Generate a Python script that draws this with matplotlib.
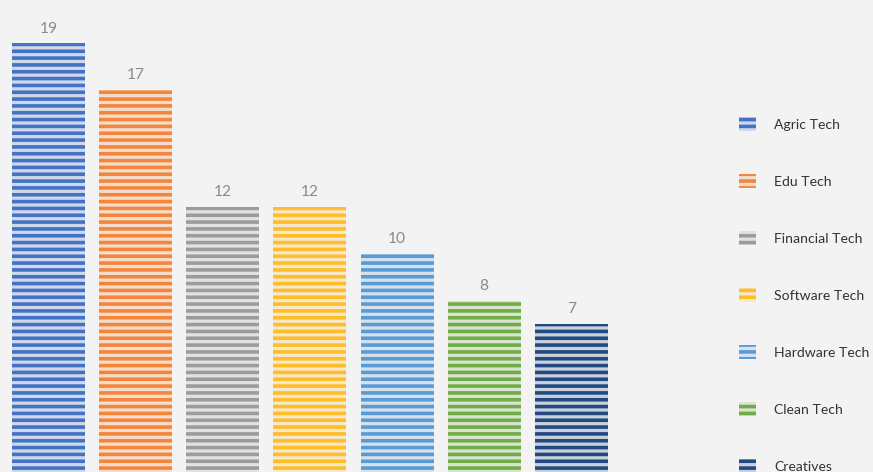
import matplotlib
matplotlib.use("Agg")
import matplotlib.pyplot as plt
from matplotlib.colors import to_rgb

# Startups per sector
categories = ["Agric Tech", "Edu Tech", "Financial Tech", "Software Tech",
              "Hardware Tech", "Clean Tech", "Creatives"]
values = [19, 17, 12, 12, 10, 8, 7]
stripe_colors = ["#4472C4", "#F5853A", "#9C9C9C", "#FFBD2A",
                 "#5B9BD5", "#70AD47", "#224A80"]

DPI = 82
BG = "#F3F3F3"
PX = 72.0 / DPI  # points per pixel

plt.rcParams["hatch.linewidth"] = 3.6 * PX
plt.rcParams["font.family"] = ["Lato", "DejaVu Sans"]


def tint(color, amount=0.2):
    c = to_rgb(color)
    b = to_rgb(BG)
    return tuple(ci * amount + bi * (1 - amount) for ci, bi in zip(c, b))


fig = plt.figure(figsize=(873.3 / DPI, 472.3 / DPI), dpi=DPI, facecolor=BG)
ax = fig.add_axes([0, 0, 1, 1])
ax.set_facecolor(BG)

for i, (cat, v, c) in enumerate(zip(categories, values, stripe_colors)):
    ax.bar(i, v, width=0.838, color=tint(c), edgecolor=c, linewidth=0,
           hatch="--", label=cat)
    ax.annotate(str(v), (i, v), xytext=(0, 15 * PX), textcoords="offset points",
                ha="center", va="center", color="#8A8A8A", fontsize=15.5 * PX)

ax.set_xlim(-0.557, 9.466)
ax.set_ylim(0.684, 20.86)
ax.axis("off")

fs = 14 * PX
ax.legend(loc="upper left", bbox_to_anchor=(739 / 873, 1 - 117 / 472),
          bbox_transform=fig.transFigure, frameon=False, fontsize=fs,
          labelcolor="#333333", handlelength=17 / 14, handleheight=17 / 14,
          handletextpad=18 / 14, labelspacing=(57 - 17) / 14 + 0.18,
          borderpad=0, borderaxespad=0)

fig.savefig("out.png", dpi=DPI, facecolor=BG)
